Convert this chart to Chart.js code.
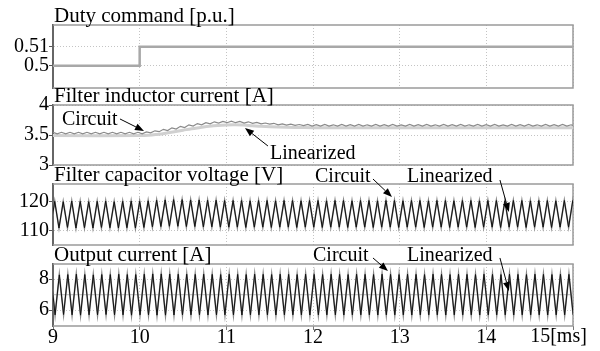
<!DOCTYPE html>
<html>
<head>
<meta charset="utf-8">
<script src="https://cdn.jsdelivr.net/npm/chart.js@4.4.1/dist/chart.umd.min.js"></script>
<style>
  html, body { margin: 0; padding: 0; background: #fff; }
  #wrap { position: relative; width: 600px; height: 351px; }
  #wrap canvas { position: absolute; left: 0; top: 0; }
</style>
</head>
<body>
<div id="wrap">
  <canvas id="duty" width="600" height="351"></canvas>
  <canvas id="il" width="600" height="351"></canvas>
  <canvas id="vc" width="600" height="351"></canvas>
  <canvas id="io" width="600" height="351"></canvas>
</div>
<script>
// shared time axis [ms]
const timeTicks = [9, 10, 11, 12, 13, 14, 15];

// duty command [p.u.]
const dutyTime = [9, 10, 10, 15];
const dutyValue = [0.5, 0.5, 0.51, 0.51];

const halfPeriod = 0.049;

// filter inductor current [A], circuit (wavy) and linearized (smooth)
const ilStart = 9.0;
const ilCircuit = [
  3.545, 3.52, 3.545, 3.52, 3.545, 3.52, 3.545, 3.52, 3.545, 3.52,
  3.545, 3.52, 3.545, 3.52, 3.545, 3.52, 3.545, 3.52, 3.545, 3.52,
  3.545, 3.52,
  3.55, 3.535, 3.57, 3.555, 3.595, 3.575, 3.62, 3.60, 3.645, 3.625,
  3.67, 3.65, 3.69, 3.67, 3.705, 3.685, 3.72, 3.70, 3.725, 3.705,
  3.73, 3.705, 3.725, 3.70, 3.72, 3.695, 3.71, 3.685, 3.70, 3.68,
  3.695, 3.67, 3.685, 3.665, 3.68, 3.66, 3.675, 3.655,
  3.675, 3.65, 3.672, 3.648, 3.675, 3.65, 3.67, 3.648, 3.675, 3.65,
  3.672, 3.65, 3.675, 3.648, 3.67, 3.65, 3.675, 3.65, 3.672, 3.648,
  3.675, 3.65, 3.67, 3.65, 3.675, 3.648, 3.672, 3.65, 3.675, 3.65,
  3.67, 3.648, 3.675, 3.65, 3.672, 3.65, 3.675, 3.648, 3.67, 3.65,
  3.675, 3.65, 3.672, 3.648, 3.675, 3.65, 3.67, 3.65, 3.675, 3.648,
  3.672, 3.65, 3.675, 3.65, 3.67, 3.648, 3.675, 3.65, 3.672, 3.65,
  3.675, 3.648, 3.67, 3.65, 3.675, 3.65
];
const ilLinTime = [9, 10, 10.1, 10.2, 10.3, 10.4, 10.5, 10.6, 10.7, 10.8, 10.9, 11, 11.1, 11.2, 11.3, 11.4, 11.6, 11.8, 12, 12.5, 13, 14, 15];
const ilLinearized = [3.49, 3.49, 3.495, 3.51, 3.53, 3.555, 3.58, 3.605, 3.625, 3.645, 3.66, 3.668, 3.67, 3.665, 3.655, 3.645, 3.632, 3.625, 3.622, 3.62, 3.62, 3.62, 3.62];

// filter capacitor voltage [V], trough / peak pairs
const vcStart = 8.971;
const vcCircuit = [
  111.1, 120.1, 111.0, 120.0, 111.2, 120.2, 111.0, 120.1, 111.1, 120.0,
  111.0, 120.1, 111.2, 120.2, 111.1, 120.0, 111.0, 120.1, 111.1, 120.2,
  111.0, 120.1, 111.2, 120.3, 111.4, 120.5, 111.5, 120.6, 111.6, 120.7,
  111.6, 120.7, 111.5, 120.6, 111.5, 120.6, 111.4, 120.5, 111.4, 120.5,
  111.3, 120.4, 111.3, 120.4, 111.3, 120.4, 111.2, 120.3, 111.3, 120.4,
  111.3, 120.4, 111.2, 120.3, 111.3, 120.4, 111.3, 120.4, 111.2, 120.3,
  111.3, 120.4, 111.3, 120.4, 111.2, 120.3, 111.3, 120.4, 111.3, 120.4,
  111.2, 120.3, 111.3, 120.4, 111.3, 120.4, 111.2, 120.3, 111.3, 120.4,
  111.3, 120.4, 111.2, 120.3, 111.3, 120.4, 111.3, 120.4, 111.2, 120.3,
  111.3, 120.4, 111.3, 120.4, 111.2, 120.3, 111.3, 120.4, 111.3, 120.4,
  111.2, 120.3, 111.3, 120.4, 111.3, 120.4, 111.2, 120.3, 111.3, 120.4,
  111.3, 120.4, 111.2, 120.3, 111.3, 120.4, 111.3, 120.4, 111.2, 120.3,
  111.3, 120.4, 111.3, 120.4, 111.2, 120.3
];
const vcLinearized = vcCircuit; // the two traces sit on top of each other here

// output current [A], peak / trough pairs
const ioStart = 8.975;
const ioCircuit = [
  8.30, 5.70, 8.28, 5.72, 8.30, 5.70, 8.32, 5.68, 8.30, 5.70,
  8.28, 5.70, 8.30, 5.72, 8.30, 5.70, 8.32, 5.70, 8.30, 5.68,
  8.30, 5.70, 8.32, 5.70, 8.34, 5.68, 8.34, 5.68, 8.33, 5.69,
  8.32, 5.70, 8.32, 5.70, 8.31, 5.70, 8.32, 5.69, 8.31, 5.70,
  8.30, 5.70, 8.32, 5.70, 8.31, 5.69, 8.30, 5.70, 8.32, 5.70,
  8.31, 5.70, 8.30, 5.69, 8.32, 5.70, 8.31, 5.70, 8.30, 5.70,
  8.32, 5.69, 8.31, 5.70, 8.30, 5.70, 8.32, 5.70, 8.31, 5.69,
  8.30, 5.70, 8.32, 5.70, 8.31, 5.70, 8.30, 5.69, 8.32, 5.70,
  8.31, 5.70, 8.30, 5.70, 8.32, 5.69, 8.31, 5.70, 8.30, 5.70,
  8.32, 5.70, 8.31, 5.69, 8.30, 5.70, 8.32, 5.70, 8.31, 5.70,
  8.30, 5.69, 8.32, 5.70, 8.31, 5.70, 8.30, 5.70, 8.32, 5.69,
  8.31, 5.70, 8.30, 5.70, 8.32, 5.70, 8.31, 5.69, 8.30, 5.70,
  8.32, 5.70, 8.31, 5.70, 8.30, 5.69
];
const ioLinearized = ioCircuit;
const ioLevelTime = [9, 15];
const ioLevel = [7.0, 7.0];

const serif = "'Liberation Serif', 'Times New Roman', serif";
Chart.defaults.color = '#000';

function pts(times, values) {
  return values.map((v, i) => ({x: times[i], y: v}));
}
function ripple(start, values) {
  return values.map((v, i) => ({x: start + i * halfPeriod, y: v}));
}

function arrow(ctx, x1, y1, x2, y2) {
  const a = Math.atan2(y2 - y1, x2 - x1), L = 9, W = 3.5;
  const bx = x2 - L * Math.cos(a), by = y2 - L * Math.sin(a);
  ctx.strokeStyle = '#000';
  ctx.lineWidth = 1;
  ctx.beginPath();
  ctx.moveTo(x1, y1);
  ctx.lineTo(bx, by);
  ctx.stroke();
  ctx.beginPath();
  ctx.moveTo(x2, y2);
  ctx.lineTo(bx + W * Math.sin(a), by - W * Math.cos(a));
  ctx.lineTo(bx - W * Math.sin(a), by + W * Math.cos(a));
  ctx.closePath();
  ctx.fill();
}

const frame = {
  id: 'frame',
  beforeDatasetsDraw(chart) {
    const {ctx, chartArea: a} = chart;
    ctx.save();
    ctx.strokeStyle = '#9a9a9a';
    ctx.lineWidth = 1.5;
    ctx.beginPath();
    ctx.moveTo(a.left, a.top);
    ctx.lineTo(a.right, a.top);
    ctx.lineTo(a.right, a.bottom);
    ctx.lineTo(a.left, a.bottom);
    ctx.stroke();
    ctx.restore();
  },
  afterDraw(chart, args, opts) {
    const {ctx, chartArea: a, scales: {x, y}} = chart;
    ctx.save();
    ctx.fillStyle = '#000';
    ctx.textBaseline = 'alphabetic';
    ctx.textAlign = 'left';
    ctx.font = '21px ' + serif;
    ctx.fillText(opts.title, a.left + 1, a.top - 3);
    ctx.font = '20px ' + serif;
    for (const n of opts.notes || []) {
      ctx.fillText(n.text, x.getPixelForValue(n.t), y.getPixelForValue(n.v));
    }
    for (const [t1, v1, t2, v2] of opts.arrows || []) {
      arrow(ctx, x.getPixelForValue(t1), y.getPixelForValue(v1), x.getPixelForValue(t2), y.getPixelForValue(v2));
    }
    if (opts.unit) {
      ctx.textAlign = 'right';
      ctx.fillText(opts.unit.text, x.getPixelForValue(opts.unit.t), a.bottom + 16);
    }
    ctx.restore();
  }
};

function panel(id, p) {
  const xLabels = !!p.xLabels;
  return new Chart(document.getElementById(id).getContext('2d'), {
    type: 'line',
    data: {datasets: p.datasets},
    options: {
      responsive: false,
      animation: false,
      devicePixelRatio: 1,
      layout: {padding: {top: p.top, bottom: 351 - p.bottom - (xLabels ? 25 : 0), left: 0, right: 27}},
      elements: {point: {radius: 0}, line: {tension: 0}},
      plugins: {
        legend: {display: false},
        tooltip: {enabled: false},
        frame: {title: p.title, notes: p.notes, arrows: p.arrows, unit: p.unit}
      },
      scales: {
        x: {
          type: 'linear', min: 9, max: 15,
          afterBuildTicks: s => { s.ticks = timeTicks.map(v => ({value: v})); },
          afterFit: s => { s.height = xLabels ? 25 : 0; },
          grid: {color: '#c4c4c4', drawTicks: xLabels, tickLength: 4, tickColor: '#777'},
          border: {display: false, dash: [1, 2]},
          ticks: {
            display: xLabels, maxRotation: 0, padding: -2,
            font: {family: serif, size: 20, lineHeight: 1},
            callback: v => (v === 15 ? '' : String(v))
          }
        },
        y: {
          min: p.min, max: p.max,
          afterBuildTicks: s => { s.ticks = p.ticks.map(v => ({value: v})); },
          afterFit: s => { s.width = 53; },
          grid: {color: '#c4c4c4', tickLength: 4, tickColor: '#555'},
          border: {color: '#666', width: 2, dash: [1, 2]},
          ticks: {padding: 0, font: {family: serif, size: 20, lineHeight: 1}, callback: v => String(v)}
        }
      }
    },
    plugins: [frame]
  });
}

panel('duty', {
  top: 25, bottom: 88, min: 0.4883, max: 0.5214, ticks: [0.5, 0.51],
  title: 'Duty command [p.u.]',
  datasets: [
    {data: pts(dutyTime, dutyValue), borderColor: '#a8a8a8', borderWidth: 2.5}
  ]
});

panel('il', {
  top: 105, bottom: 165, min: 3, max: 4, ticks: [3, 3.5, 4],
  title: 'Filter inductor current [A]',
  datasets: [
    {data: ripple(ilStart, ilCircuit), borderColor: '#8a8a8a', borderWidth: 1.2, order: 0},
    {data: pts(ilLinTime, ilLinearized), borderColor: '#d0d0d0', borderWidth: 3, tension: 0.4, order: 1}
  ],
  notes: [
    {text: 'Circuit', t: 9.104, v: 3.667},
    {text: 'Linearized', t: 11.504, v: 3.10}
  ],
  arrows: [
    [9.773, 3.767, 10.05, 3.567],
    [11.48, 3.317, 11.215, 3.617]
  ]
});

panel('vc', {
  top: 184, bottom: 245, min: 105.2, max: 126.04, ticks: [110, 120],
  title: 'Filter capacitor voltage [V]',
  datasets: [
    {data: ripple(vcStart, vcCircuit), borderColor: '#111', borderWidth: 1, order: 0},
    {data: ripple(vcStart, vcLinearized), borderColor: '#888', borderWidth: 1.6, order: 1}
  ],
  notes: [
    {text: 'Circuit', t: 12.023, v: 126.7},
    {text: 'Linearized', t: 13.085, v: 126.7}
  ],
  arrows: [
    [12.692, 127.75, 12.911, 121.6],
    [14.157, 127.4, 14.26, 116.5]
  ]
});

panel('io', {
  top: 264, bottom: 326, min: 4.98, max: 8.98, ticks: [6, 8],
  title: 'Output current [A]',
  xLabels: true,
  unit: {text: '15[ms]', t: 15.16},
  datasets: [
    {data: ripple(ioStart, ioCircuit), borderColor: '#111', borderWidth: 1, order: 0},
    {data: ripple(ioStart, ioLinearized), borderColor: '#888', borderWidth: 1.6, order: 1},
    {data: pts(ioLevelTime, ioLevel), borderColor: '#c8c8c8', borderWidth: 1.2, order: 2}
  ],
  notes: [
    {text: 'Circuit', t: 12.0, v: 9.17},
    {text: 'Linearized', t: 13.085, v: 9.17}
  ],
  arrows: [
    [12.692, 9.37, 12.865, 8.53],
    [14.157, 9.37, 14.26, 7.24]
  ]
});
</script>
</body>
</html>
